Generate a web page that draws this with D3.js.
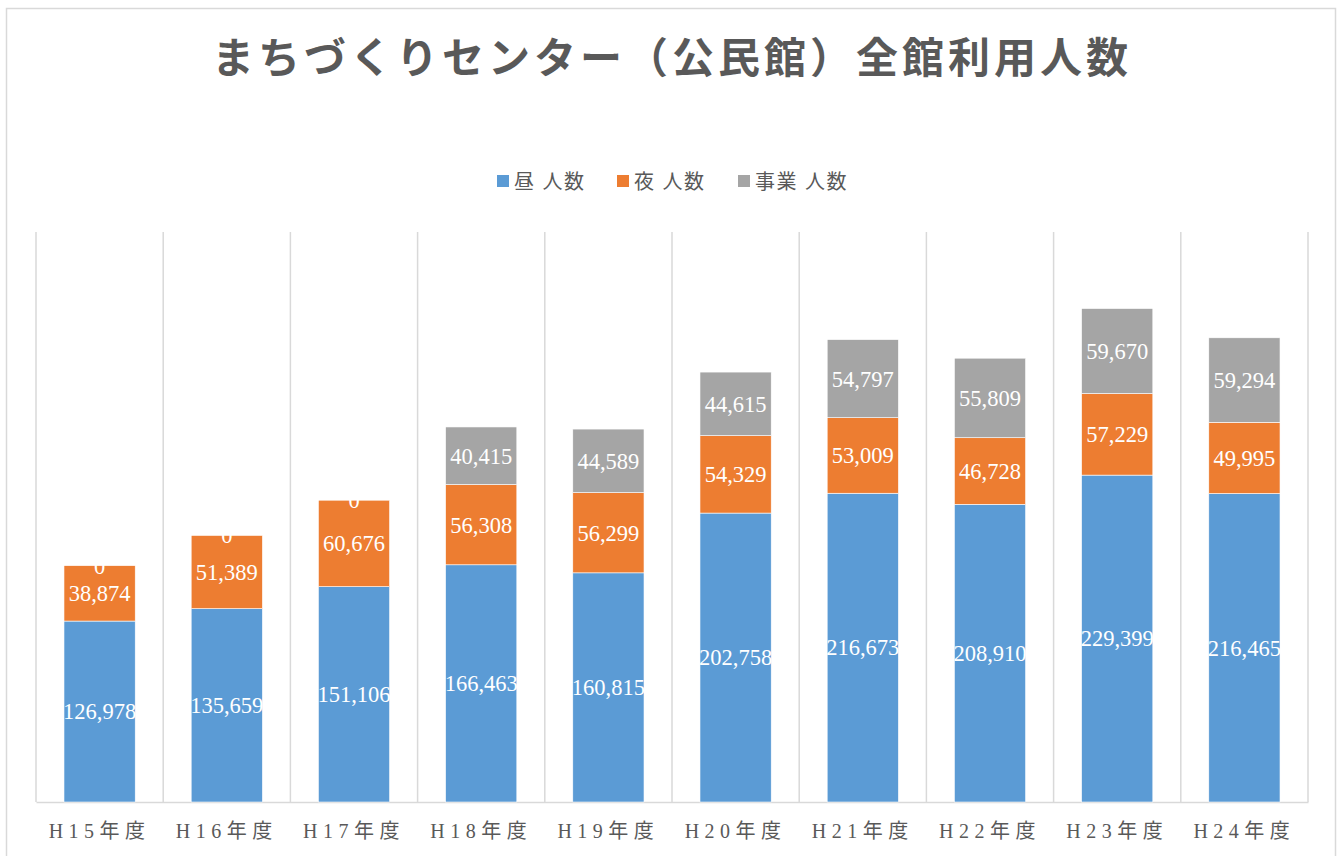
<!DOCTYPE html>
<html>
<head>
<meta charset="utf-8">
<script src="https://cdn.jsdelivr.net/npm/d3@7"></script>
<style>
  body { margin: 0; background: #fff; }
  svg { display: block; }
</style>
</head>
<body>
<div id="chart"></div>
<script>
// chart data
const categories = ["H15年度", "H16年度", "H17年度", "H18年度", "H19年度", "H20年度", "H21年度", "H22年度", "H23年度", "H24年度"];
const seriesNames = ["昼 人数", "夜 人数", "事業 人数"];
const dayCounts = [126978, 135659, 151106, 166463, 160815, 202758, 216673, 208910, 229399, 216465];
const nightCounts = [38874, 51389, 60676, 56308, 56299, 54329, 53009, 46728, 57229, 49995];
const eventCounts = [0, 0, 0, 40415, 44589, 44615, 54797, 55809, 59670, 59294];
const colors = ["#5b9bd5", "#ed7d31", "#a5a5a5"];

const width = 1338, height = 856;
const margin = { top: 232, right: 30, bottom: 54, left: 36 };

const svg = d3.select("#chart").append("svg")
  .attr("width", width)
  .attr("height", height);

// outer frame
svg.append("rect")
  .attr("x", 6.5).attr("y", 8.5)
  .attr("width", 1329).attr("height", 860)
  .attr("fill", "#fff")
  .attr("stroke", "#d9d9d9")
  .attr("stroke-width", 1.5);

// title
svg.append("text")
  .attr("x", 672).attr("y", 73)
  .attr("text-anchor", "middle")
  .attr("font-family", "'Noto Sans CJK JP', sans-serif")
  .attr("font-size", 42)
  .attr("font-weight", "bold")
  .attr("letter-spacing", 4)
  .attr("fill", "#595959")
  .text("まちづくりセンター（公民館）全館利用人数");

// build rows for stacking
const rows = categories.map((c, i) => ({
  cat: c, s0: dayCounts[i], s1: nightCounts[i], s2: eventCounts[i]
}));
const stack = d3.stack().keys(["s0", "s1", "s2"]);
const layers = stack(rows);

const x = d3.scaleBand()
  .domain(categories)
  .range([margin.left, width - margin.right])
  .paddingInner(0)
  .paddingOuter(0);

const y = d3.scaleLinear()
  .domain([0, 400000])
  .range([height - margin.bottom, margin.top]);

const barW = x.bandwidth() * 0.56;

// vertical gridlines between categories
const bounds = categories.map(c => x(c)).concat([x.range()[1]]);
svg.append("g")
  .selectAll("line")
  .data(bounds)
  .join("line")
  .attr("x1", d => d).attr("x2", d => d)
  .attr("y1", y(400000)).attr("y2", y(0))
  .attr("stroke", "#d9d9d9")
  .attr("stroke-width", 1.5);

// baseline axis
const xAxis = svg.append("g")
  .attr("transform", `translate(0,${y(0)})`)
  .call(d3.axisBottom(x).tickSize(0).tickPadding(22));
xAxis.select(".domain").attr("stroke", "#d9d9d9").attr("stroke-width", 1.5);
xAxis.selectAll("text")
  .attr("font-family", "'Liberation Serif', 'Noto Sans CJK JP', serif")
  .attr("font-size", 20)
  .attr("letter-spacing", 5.5)
  .attr("fill", "#595959");

// bars
const groups = svg.append("g")
  .selectAll("g")
  .data(layers)
  .join("g")
  .attr("fill", (d, i) => colors[i]);

groups.selectAll("rect")
  .data(d => d)
  .join("rect")
  .attr("x", d => x(d.data.cat) + (x.bandwidth() - barW) / 2)
  .attr("y", d => y(d[1]))
  .attr("width", barW)
  .attr("height", d => y(d[0]) - y(d[1]))
  .attr("stroke", "#fff")
  .attr("stroke-width", 0.6);

// data labels
const fmt = d3.format(",");
const labels = svg.append("g");
layers.forEach(layer => {
  labels.selectAll(null)
    .data(layer)
    .join("text")
    .attr("x", d => x(d.data.cat) + x.bandwidth() / 2)
    .attr("y", d => (y(d[0]) + y(d[1])) / 2)
    .attr("dy", "0.35em")
    .attr("text-anchor", "middle")
    .attr("font-family", "'Liberation Serif', serif")
    .attr("font-size", 22.5)
    .attr("fill", "#fff")
    .text(d => fmt(d[1] - d[0]));
});

// legend
const legendX = [497, 617, 738];
const legend = svg.append("g");
seriesNames.forEach((name, i) => {
  legend.append("rect")
    .attr("x", legendX[i]).attr("y", 175)
    .attr("width", 12).attr("height", 12)
    .attr("fill", colors[i]);
  legend.append("text")
    .attr("x", legendX[i] + 17).attr("y", 189)
    .attr("font-family", "'Noto Sans CJK JP', sans-serif")
    .attr("font-size", 20)
    .attr("letter-spacing", 1.5)
    .attr("word-spacing", 1)
    .attr("fill", "#595959")
    .text(name);
});
</script>
</body>
</html>
